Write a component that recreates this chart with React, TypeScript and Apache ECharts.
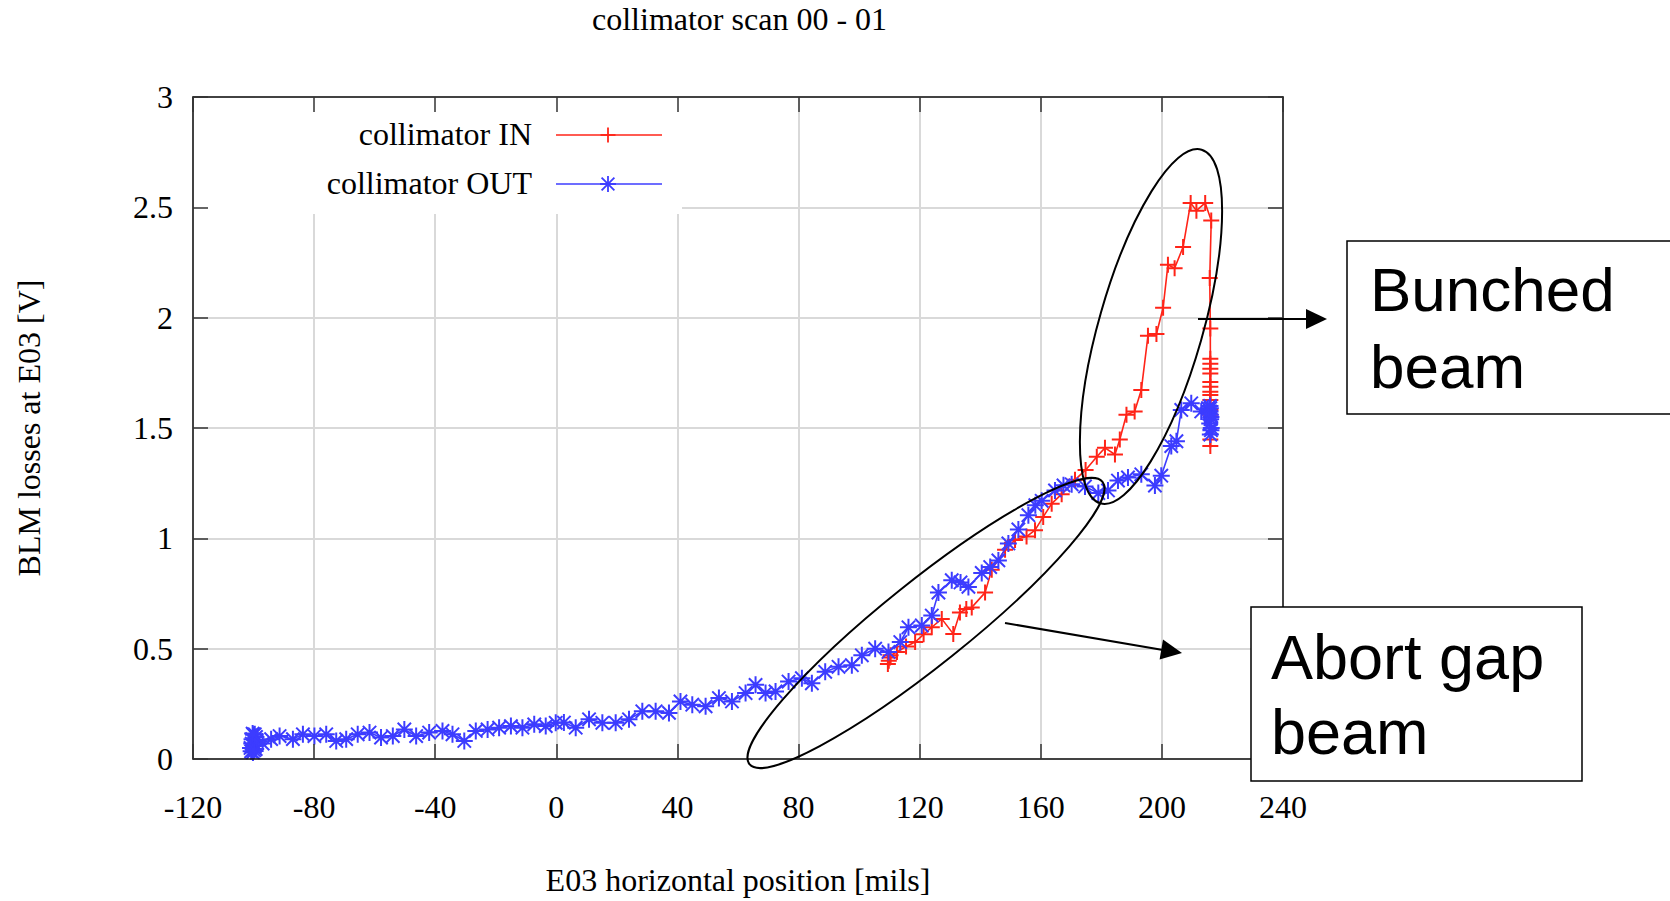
import React, { useEffect, useRef } from "react";
import * as echarts from "echarts";

const TITLE = "collimator scan 00 - 01";
const X_NAME = "E03 horizontal position [mils]";
const Y_NAME = "BLM losses at E03 [V]";
const SERIES_NAMES = ["collimator IN", "collimator OUT"];
const X_MIN = -120;
const X_MAX = 240;
const X_STEP = 40;
const Y_MIN = 0;
const Y_MAX = 3;
const Y_STEP = 0.5;

// collimator IN (red, "+")
const inPositions = [
  109.5, 110.2, 109.8, 110.4, 112.5, 115.5, 118.5, 121.3, 124, 127.3, 131.1, 133.3, 135.4, 137.2,
  141.6, 143.8, 148.2, 151.5, 155.3, 158.1, 160.8, 163.6, 166.9,
  171.3, 174.8, 178.5, 181.2, 184.5, 186.1, 188.3, 191, 193.2,
  195.4, 198.2, 200.4, 202, 204.2, 207, 209.5, 211.4, 214.3,
  216.3, 215.8,
  216, 216, 216, 216, 216, 216, 216, 216, 216, 216, 216, 216, 216, 216,
];
const inLosses = [
  0.43, 0.46, 0.445, 0.47, 0.485, 0.51, 0.53, 0.565, 0.597, 0.635, 0.567, 0.664, 0.68, 0.687,
  0.754, 0.858, 0.948, 0.993, 1.008, 1.037, 1.097, 1.157, 1.2,
  1.265, 1.31, 1.37, 1.41, 1.38, 1.448, 1.56, 1.575, 1.672,
  1.918, 1.926, 2.045, 2.24, 2.224, 2.32, 2.52, 2.485, 2.52,
  2.44, 2.18,
  1.951, 1.814, 1.791, 1.769, 1.747, 1.709, 1.687, 1.664, 1.649, 1.627, 1.582, 1.56, 1.448, 1.418,
];

// collimator OUT (blue, "*")
const outPositions = [
  -100.8, -100, -99.3, -100.5, -99.5, -100.2, -99.2, -100.6, -99.6, -101, -99, -100.3, -99.8,
  -97, -94.2, -91.4, -87, -83.7, -79.9, -76, -72.7, -69.4, -65.6,
  -61.7, -57.9, -54, -50.2, -46.3, -42, -37.6, -34.3, -30.4, -26.6,
  -22.7, -18.9, -15, -11.2, -7.3, -3.5, -0.2,
  2.5, 6.4, 10.8, 15.2, 19.6, 24, 28.4, 32.8, 37.2, 41,
  44.9, 49.3, 53.7, 58, 62.5, 65.8, 69.1, 72.4, 76.7, 81.1,
  84.4, 88.8, 93.2, 97.6, 100.9, 105.3, 109.7, 113.6, 116.3, 120.7,
  124, 126.2, 130.6, 133.5, 136.1, 140.5, 143.3, 146, 149.3, 152.6,
  155.9, 158.2, 160.3, 164.7, 167.5, 170.2, 174.6, 179, 182.2, 185.5,
  188.8, 193.2, 197.7, 199.8, 203.1, 204.8, 206.4, 209.7, 213, 215.2,
  216, 216.2, 215.8, 216, 216.3, 215.9, 216.1, 216, 216.2, 215.9,
];
const outLosses = [
  0.035, 0.11, 0.045, 0.09, 0.06, 0.03, 0.1, 0.07, 0.112, 0.05, 0.085, 0.115, 0.04,
  0.07, 0.09, 0.104, 0.09, 0.112, 0.104, 0.112, 0.082, 0.09, 0.112,
  0.12, 0.097, 0.104, 0.134, 0.104, 0.12, 0.127, 0.112, 0.082, 0.127,
  0.134, 0.142, 0.149, 0.142, 0.157, 0.149, 0.164,
  0.165, 0.142, 0.18, 0.164, 0.164, 0.18, 0.216, 0.216, 0.209, 0.261,
  0.246, 0.239, 0.276, 0.261, 0.299, 0.336, 0.299, 0.306, 0.351, 0.366,
  0.343, 0.395, 0.418, 0.425, 0.47, 0.5, 0.485, 0.53, 0.597, 0.605,
  0.65, 0.754, 0.81, 0.8, 0.78, 0.843, 0.87, 0.9, 0.977, 1.04,
  1.105, 1.15, 1.17, 1.217, 1.24, 1.245, 1.235, 1.205, 1.217, 1.262,
  1.276, 1.29, 1.239, 1.284, 1.418, 1.44, 1.582, 1.612, 1.575, 1.59,
  1.59, 1.55, 1.52, 1.47, 1.5, 1.575, 1.54, 1.56, 1.49, 1.6,
];

const ANNOTATION_BUNCHED = ["Bunched", "beam"];
const ANNOTATION_ABORT = ["Abort gap", "beam"];

const RED = "#ff2418";
const BLUE = "#3c3cff";
const SERIF = "'Liberation Serif', 'Times New Roman', serif";
const SANS = "'Liberation Sans', Arial, sans-serif";
const FS = 32;

const PLUS_PATH = "path://M7,0L7,14M0,7L14,7";
const STAR_PATH = "path://M7,0L7,14M0,7L14,7M1.5,1.5L12.5,12.5M1.5,12.5L12.5,1.5";

function plusMarker(cx: number, cy: number, r: number, color: string) {
  return [
    { type: "line", z: 6, shape: { x1: cx - r, y1: cy, x2: cx + r, y2: cy }, style: { stroke: color, lineWidth: 1.8 } },
    { type: "line", z: 6, shape: { x1: cx, y1: cy - r, x2: cx, y2: cy + r }, style: { stroke: color, lineWidth: 1.8 } },
  ];
}
function starMarker(cx: number, cy: number, r: number, color: string) {
  const d = r * 0.8;
  return [
    ...plusMarker(cx, cy, r, color),
    { type: "line", z: 6, shape: { x1: cx - d, y1: cy - d, x2: cx + d, y2: cy + d }, style: { stroke: color, lineWidth: 1.8 } },
    { type: "line", z: 6, shape: { x1: cx - d, y1: cy + d, x2: cx + d, y2: cy - d }, style: { stroke: color, lineWidth: 1.8 } },
  ];
}

function buildOption() {
  const inData = inPositions.map((x, i) => [x, inLosses[i]]);
  const outData = outPositions.map((x, i) => [x, outLosses[i]]);

  const frameLine = { show: true, onZero: false, lineStyle: { color: "#111", width: 1.5 } };
  const innerTick = { show: true, inside: true, length: 15, lineStyle: { color: "#333", width: 1.5 } };
  const gridLine = { show: true, lineStyle: { color: "#d9d9d9", width: 2 } };
  const xBase = { type: "value", gridIndex: 0, min: X_MIN, max: X_MAX, interval: X_STEP };
  const yBase = { type: "value", gridIndex: 0, min: Y_MIN, max: Y_MAX, interval: Y_STEP };

  const labelStyle = { fontFamily: SERIF, fontSize: FS, color: "#000" };

  const graphics: any[] = [
    // opaque key area
    { type: "rect", z: 1, silent: true, shape: { x: 194, y: 98, width: 488, height: 116 }, style: { fill: "#fff" } },
    { type: "text", z: 6, x: 532, y: 134, style: { text: SERIES_NAMES[0], fontFamily: SERIF, fontSize: FS, fill: "#000", align: "right", verticalAlign: "middle" } },
    { type: "text", z: 6, x: 532, y: 183, style: { text: SERIES_NAMES[1], fontFamily: SERIF, fontSize: FS, fill: "#000", align: "right", verticalAlign: "middle" } },
    { type: "line", z: 6, shape: { x1: 556, y1: 135, x2: 662, y2: 135 }, style: { stroke: RED, lineWidth: 1.5 } },
    ...plusMarker(608, 135, 7.5, RED),
    { type: "line", z: 6, shape: { x1: 556, y1: 184, x2: 662, y2: 184 }, style: { stroke: BLUE, lineWidth: 1.5 } },
    ...starMarker(608, 184, 8, BLUE),

    // ellipses
    { type: "ellipse", z: 7, x: 1151, y: 326.5, rotation: -0.279, shape: { cx: 0, cy: 0, rx: 52, ry: 184 }, style: { fill: "none", stroke: "#000", lineWidth: 2 } },
    { type: "ellipse", z: 7, x: 926, y: 623, rotation: 0.675, shape: { cx: 0, cy: 0, rx: 226, ry: 42 }, style: { fill: "none", stroke: "#000", lineWidth: 2 } },

    // arrows
    { type: "line", z: 7, shape: { x1: 1198, y1: 319, x2: 1308, y2: 319 }, style: { stroke: "#000", lineWidth: 2 } },
    { type: "polygon", z: 7, shape: { points: [[1327, 319], [1306, 309], [1306, 329]] }, style: { fill: "#000" } },
    { type: "line", z: 7, shape: { x1: 1005, y1: 623, x2: 1163, y2: 650 }, style: { stroke: "#000", lineWidth: 2 } },
    { type: "polygon", z: 7, shape: { points: [[1182, 653], [1159.6, 659.4], [1163, 639.6]] }, style: { fill: "#000" } },

    // annotation boxes
    { type: "rect", z: 8, shape: { x: 1347, y: 241, width: 400, height: 173 }, style: { fill: "#fff", stroke: "#000", lineWidth: 1.5 } },
    { type: "text", z: 9, x: 1370, y: 289, style: { text: ANNOTATION_BUNCHED[0], fontFamily: SANS, fontSize: 62, fill: "#000", align: "left", verticalAlign: "middle" } },
    { type: "text", z: 9, x: 1370, y: 366.5, style: { text: ANNOTATION_BUNCHED[1], fontFamily: SANS, fontSize: 62, fill: "#000", align: "left", verticalAlign: "middle" } },
    { type: "rect", z: 8, shape: { x: 1251, y: 607, width: 331, height: 174 }, style: { fill: "#fff", stroke: "#000", lineWidth: 1.5 } },
    { type: "text", z: 9, x: 1271, y: 656.5, style: { text: ANNOTATION_ABORT[0], fontFamily: SANS, fontSize: 63, fill: "#000", align: "left", verticalAlign: "middle" } },
    { type: "text", z: 9, x: 1271, y: 731.8, style: { text: ANNOTATION_ABORT[1], fontFamily: SANS, fontSize: 63, fill: "#000", align: "left", verticalAlign: "middle" } },
  ];

  return {
    animation: false,
    backgroundColor: "#fff",
    title: {
      text: TITLE,
      left: 592,
      top: 3,
      padding: 0,
      textStyle: { fontFamily: SERIF, fontSize: FS, fontWeight: "normal", color: "#000" },
    },
    grid: { left: 193, top: 97, width: 1090, height: 669, containLabel: false },
    xAxis: [
      { ...xBase, position: "bottom", z: 0, axisLine: { show: false }, axisTick: { show: false }, axisLabel: { show: false }, splitLine: gridLine },
      {
        ...xBase, position: "bottom", z: 5, axisLine: frameLine, axisTick: innerTick,
        axisLabel: { ...labelStyle, margin: 32 }, splitLine: { show: false },
        name: X_NAME, nameLocation: "middle", nameGap: 105, nameTextStyle: labelStyle,
      },
      { ...xBase, position: "top", z: 5, axisLine: frameLine, axisTick: innerTick, axisLabel: { show: false }, splitLine: { show: false } },
    ],
    yAxis: [
      { ...yBase, position: "left", z: 0, axisLine: { show: false }, axisTick: { show: false }, axisLabel: { show: false }, splitLine: gridLine },
      {
        ...yBase, position: "left", z: 5, axisLine: frameLine, axisTick: innerTick,
        axisLabel: { ...labelStyle, margin: 20 }, splitLine: { show: false },
        name: Y_NAME, nameLocation: "middle", nameGap: 148, nameTextStyle: labelStyle,
      },
      { ...yBase, position: "right", z: 5, axisLine: frameLine, axisTick: innerTick, axisLabel: { show: false }, splitLine: { show: false } },
    ],
    series: [
      {
        name: SERIES_NAMES[0], type: "line", xAxisIndex: 1, yAxisIndex: 1, z: 2,
        data: inData, symbol: PLUS_PATH, symbolSize: 16, showAllSymbol: true,
        lineStyle: { color: RED, width: 1.6 },
        itemStyle: { color: RED, borderColor: RED, borderWidth: 2 },
        emphasis: { disabled: true },
      },
      {
        name: SERIES_NAMES[1], type: "line", xAxisIndex: 1, yAxisIndex: 1, z: 3,
        data: outData, symbol: STAR_PATH, symbolSize: 17, showAllSymbol: true,
        lineStyle: { color: BLUE, width: 1.6 },
        itemStyle: { color: BLUE, borderColor: BLUE, borderWidth: 2 },
        emphasis: { disabled: true },
      },
    ],
    graphic: { elements: graphics },
  };
}

export default function App() {
  const ref = useRef<HTMLDivElement>(null);
  useEffect(() => {
    if (!ref.current) return;
    const chart = echarts.init(ref.current, undefined, { renderer: "svg" });
    chart.setOption(buildOption() as any);
    return () => chart.dispose();
  }, []);
  return (
    <div
      ref={ref}
      style={{ position: "absolute", left: 0, top: 0, width: 1670, height: 901, background: "#fff" }}
    />
  );
}
